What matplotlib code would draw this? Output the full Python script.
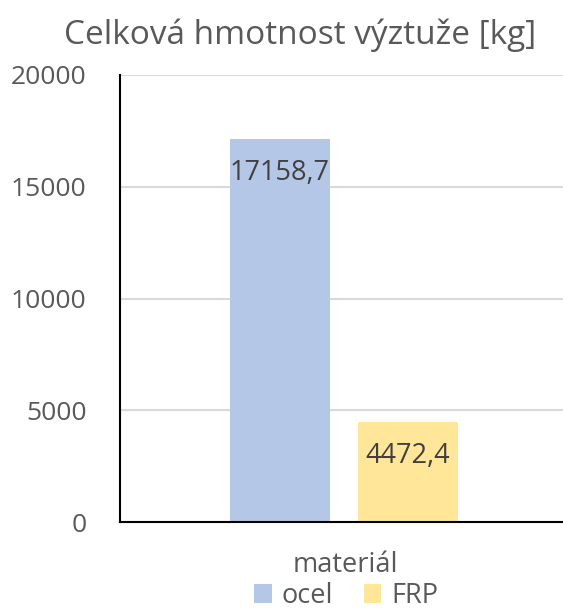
import numpy as np
import matplotlib.pyplot as plt

# data
materialy = ["ocel", "FRP"]
hmotnost = [17158.7, 4472.4]
barvy = ["#B4C7E7", "#FFE699"]
yticks = [0, 5000, 10000, 15000, 20000]

plt.rcParams['font.family'] = ['Open Sans', 'DejaVu Sans']

W, H = 563, 610
fig = plt.figure(figsize=(W / 100, H / 100), dpi=100)
# axes box in pixels: left 120, right 563, bottom 522 (from top), top 75
ax = fig.add_axes([120 / W, (H - 522) / H, (563 - 120) / W, (522 - 75) / H])

sirka = 1.0
pozice = np.array([-0.64, 0.64])
for i in range(len(materialy)):
    ax.bar(pozice[i], hmotnost[i], width=sirka, color=barvy[i], label=materialy[i], zorder=3)
    txt = f"{hmotnost[i]:.1f}".replace(".", ",")
    ax.annotate(txt, (pozice[i], hmotnost[i]), xytext=(0, -34), textcoords='offset pixels',
                ha='center', va='center', fontsize=19.5, color='#404040', zorder=4)

ax.set_xlim(-2.24, 2.19)
ax.set_ylim(0, 20000)
ax.set_yticks(yticks)
ax.set_yticklabels([str(v) for v in yticks])
ax.set_xticks([])
ax.tick_params(axis='y', length=0, pad=24, labelsize=19, labelcolor='#595959')
ax.grid(axis='y', color='#D9D9D9', linewidth=1.5, zorder=0)

for s in ['top', 'right']:
    ax.spines[s].set_visible(False)
for s in ['left', 'bottom']:
    ax.spines[s].set_color('black')
    ax.spines[s].set_linewidth(1.5)
    ax.spines[s].set_zorder(5)

fig.text(300 / W, 1 - 35 / H, "Celková hmotnost výztuže [kg]", ha='center', va='center',
         fontsize=24, color='#595959')
fig.text(345 / W, 1 - 565 / H, "materiál", ha='center', va='center',
         fontsize=19.5, color='#595959')

leg = fig.legend(loc='center', bbox_to_anchor=(346 / W, 1 - 596 / H), ncol=2, frameon=False,
                 fontsize=19.5, handlelength=0.65, handleheight=0.65, handletextpad=0.35,
                 columnspacing=1.15, labelcolor='#595959', borderpad=0.1)

fig.savefig("out.png", dpi=100)
